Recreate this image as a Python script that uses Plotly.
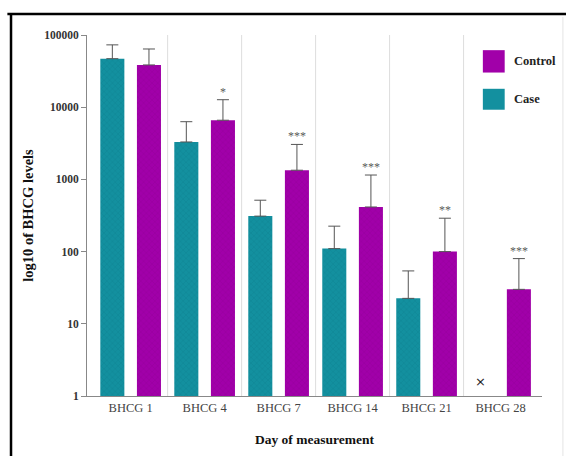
import math
import plotly.graph_objects as go

categories = ["BHCG 1", "BHCG 4", "BHCG 7", "BHCG 14", "BHCG 21", "BHCG 28"]
case_values = [47000, 3300, 310, 110, 22.5, None]
case_err_top = [73000, 6300, 515, 225, 54, None]
control_values = [38500, 6600, 1340, 415, 100, 30]
control_err_top = [64000, 12700, 3050, 1150, 290, 80]
stars = ["", "*", "***", "***", "**", "***"]
missing_label = "×"
missing_y = 1.6
y_ticks = [1, 10, 100, 1000, 10000, 100000]

TEAL = "#13909f"
MAGENTA = "#a100a9"
FONT = "Liberation Serif"

def plus(vals, tops):
    return [None if v is None else t - v for v, t in zip(vals, tops)]

fig = go.Figure()
fig.add_trace(go.Bar(
    x=categories, y=case_values, name="Case",
    width=0.325, offset=-0.41,
    marker=dict(color=TEAL, line=dict(width=0),
                pattern=dict(shape="x", size=4, solidity=0.25, fgcolor="#0b7b8a", bgcolor=TEAL)),
    error_y=dict(type="data", array=plus(case_values, case_err_top), arrayminus=[0]*6,
                 symmetric=False, color="#555555", thickness=1, width=6),
    showlegend=False, hoverinfo="skip",
))
fig.add_trace(go.Bar(
    x=categories, y=control_values, name="Control",
    width=0.325, offset=0.085,
    marker=dict(color=MAGENTA, line=dict(width=0),
                pattern=dict(shape="x", size=4, solidity=0.25, fgcolor="#8a0090", bgcolor=MAGENTA)),
    error_y=dict(type="data", array=plus(control_values, control_err_top), arrayminus=[0]*6,
                 symmetric=False, color="#555555", thickness=1, width=6),
    showlegend=False, hoverinfo="skip",
))

annotations = []
for i, (s, t) in enumerate(zip(stars, control_err_top)):
    if s:
        annotations.append(dict(x=i, xshift=18.5, y=math.log10(t), yshift=8, text=s,
                                showarrow=False, font=dict(family=FONT, size=12, color="#5a5a5a")))
annotations.append(dict(x=5, xshift=-20, y=math.log10(missing_y), text=missing_label, showarrow=False,
                        font=dict(family="DejaVu Sans", size=13, color="#222222")))
# legend text
annotations.append(dict(xref="paper", yref="paper", x=0.934, y=0.927, xanchor="left", yanchor="middle",
                        text="Control", showarrow=False,
                        font=dict(family=FONT, size=12.5, color="#222222", weight="bold")))
annotations.append(dict(xref="paper", yref="paper", x=0.934, y=0.822, xanchor="left", yanchor="middle",
                        text="Case", showarrow=False,
                        font=dict(family=FONT, size=12.5, color="#222222", weight="bold")))

shapes = []
for k in range(len(categories) - 1):
    shapes.append(dict(type="line", xref="x", yref="paper", x0=k + 0.5, x1=k + 0.5, y0=0, y1=1,
                       line=dict(color="#dddddd", width=1), layer="below"))
shapes.append(dict(type="rect", xref="paper", yref="paper", x0=0.870, x1=0.918, y0=0.896, y1=0.958,
                   fillcolor=MAGENTA, line=dict(width=0)))
shapes.append(dict(type="rect", xref="paper", yref="paper", x0=0.870, x1=0.918, y0=0.793, y1=0.851,
                   fillcolor=TEAL, line=dict(width=0)))
# frame
shapes.append(dict(type="line", xref="paper", yref="paper", x0=-0.175, x1=1.06, y0=1.058, y1=1.058,
                   line=dict(color="black", width=2.5)))
shapes.append(dict(type="line", xref="paper", yref="paper", x0=-0.167, x1=-0.167, y0=1.06, y1=-0.17,
                   line=dict(color="black", width=2.5)))
shapes.append(dict(type="line", xref="paper", yref="paper", x0=1.046, x1=1.046, y0=1.05, y1=-0.17,
                   line=dict(color="#e4e4e4", width=1)))

fig.update_layout(
    width=566, height=456,
    margin=dict(l=87, r=24, t=35, b=58),
    plot_bgcolor="white", paper_bgcolor="white",
    barmode="overlay", hovermode=False,
    font=dict(family=FONT),
    annotations=annotations, shapes=shapes,
    xaxis=dict(type="category", range=[-0.59, 5.56], showgrid=False, showline=True,
               linecolor="#888888", linewidth=1, ticks="",
               tickfont=dict(family=FONT, size=12.5, color="#444444"),
               title=dict(text="Day of measurement", standoff=20,
                          font=dict(family=FONT, size=13.5, color="#111111", weight="bold"))),
    yaxis=dict(type="log", range=[0, 5], tickvals=y_ticks, ticktext=[str(v) for v in y_ticks],
               showgrid=False, showline=True, linecolor="#888888", linewidth=1,
               ticks="outside", ticklen=5, tickcolor="#888888",
               tickfont=dict(family=FONT, size=11.5, color="#333333", weight="bold"),
               title=dict(text="log10 of BHCG levels", standoff=7,
                          font=dict(family=FONT, size=14.5, color="#111111", weight="bold"))),
)

fig.write_html("out.html", config={"displayModeBar": False},
               post_script="document.body.style.margin='0px';")
